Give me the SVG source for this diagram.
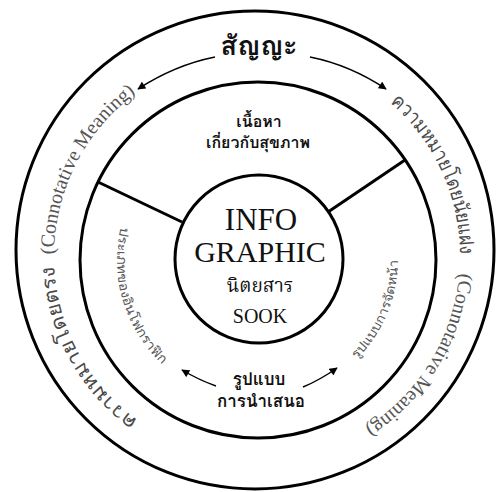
<svg xmlns="http://www.w3.org/2000/svg" width="497" height="492" viewBox="0 0 497 492">
<style>
.ring{fill:none;stroke:#000;stroke-width:3}
.div{stroke:#000;stroke-width:3}
.arr{fill:none;stroke:#000;stroke-width:1.4}
.thb{font-family:"Loma","Garuda","Noto Sans Thai Looped","Noto Sans Thai","Noto Sans","DejaVu Sans",sans-serif;font-weight:bold;fill:#111}
.ring-th{font-family:"Loma","Garuda","Noto Sans Thai Looped","Noto Sans Thai","Noto Sans",sans-serif;fill:#4a4a4a;font-size:20px}
.ring-en{font-family:"Liberation Serif","Times New Roman",serif;fill:#555;font-size:20px}
.in-th{font-family:"Loma","Garuda","Noto Sans Thai Looped","Noto Sans Thai","Noto Sans",sans-serif;fill:#555;font-size:13px}
.ctr{font-family:"Liberation Serif","Times New Roman",serif;fill:#111;text-anchor:middle}
.ctr-th{font-family:"Norasi","Noto Serif Thai","Loma","Noto Sans Thai",serif;fill:#111;text-anchor:middle}
</style>
<defs>
<marker id="ah" viewBox="0 0 10 10" refX="9" refY="5" markerWidth="9" markerHeight="8" orient="auto-start-reverse" markerUnits="userSpaceOnUse">
<path d="M0,0 L10,5 L0,10 z" fill="#000"/>
</marker>
<path id="pL" d="M155.5,431.8 A203,203 0 0 1 155.5,80.2"/>
<path id="pR" d="M373.4,89.7 A203,203 0 0 1 342.8,440"/>
<path id="iL" d="M125.5,211.8 A142,142 0 0 0 187.5,383"/>
<path id="iR" d="M348,367.2 A140,140 0 0 0 395.9,235.7"/>
</defs>

<g id="outer-ring">
<circle class="ring" cx="255" cy="250" r="239"/>
</g>
<g id="middle-ring">
<circle class="ring" cx="258" cy="260" r="178"/>
</g>

<g id="connectors">
<line class="div" x1="98" y1="182" x2="182" y2="222"/>
<line class="div" x1="405" y1="160" x2="328" y2="212"/>
<path class="arr" d="M215,57 Q175,65 138,89" marker-end="url(#ah)"/>
<path class="arr" d="M310,57 Q350,65 386,89" marker-end="url(#ah)"/>
<path class="arr" d="M216,386 Q199,380 182,370" marker-end="url(#ah)"/>
<path class="arr" d="M303,387 Q320,380 337,368" marker-end="url(#ah)"/>
</g>

<g id="sign">
<text class="thb" x="259" y="55" font-size="27" text-anchor="middle">สัญญะ</text>
</g>

<g id="denotative">
<text class="ring-th"><textPath href="#pL" startOffset="21" textLength="181" lengthAdjust="spacingAndGlyphs">ความหมายโดยตรง</textPath></text>
<text class="ring-en"><textPath href="#pL" startOffset="214">(Connotative Meaning)</textPath></text>
</g>

<g id="connotative">
<text class="ring-th"><textPath href="#pR" startOffset="21" textLength="172" lengthAdjust="spacingAndGlyphs">ความหมายโดยนัยแฝง</textPath></text>
<text class="ring-en"><textPath href="#pR" startOffset="212">(Connotative Meaning)</textPath></text>
</g>

<g id="content">
<text class="thb" x="259" y="127" font-size="16" text-anchor="middle">เนื้อหา</text>
<text class="thb" x="258" y="148" font-size="16" text-anchor="middle">เกี่ยวกับสุขภาพ</text>
</g>

<g id="types">
<text class="in-th"><textPath href="#iL" startOffset="16" textLength="150" lengthAdjust="spacingAndGlyphs">ประเภทของอินโฟกราฟิก</textPath></text>
</g>

<g id="layout">
<text class="in-th"><textPath href="#iR" startOffset="12" textLength="110" lengthAdjust="spacingAndGlyphs">รูปแบบการจัดหน้า</textPath></text>
</g>

<g id="presentation">
<text class="thb" x="259" y="385" font-size="17" text-anchor="middle">รูปแบบ</text>
<text class="thb" x="261" y="407" font-size="17" text-anchor="middle">การนำเสนอ</text>
</g>

<g id="center">
<circle class="ring" cx="259" cy="259" r="84"/>
<text class="ctr" x="261" y="230" font-size="31">INFO</text>
<text class="ctr" x="260" y="262" font-size="30">GRAPHIC</text>
<text class="ctr-th" x="260" y="292" font-size="19">นิตยสาร</text>
<text class="ctr" x="260" y="323" font-size="20">SOOK</text>
</g>
</svg>
